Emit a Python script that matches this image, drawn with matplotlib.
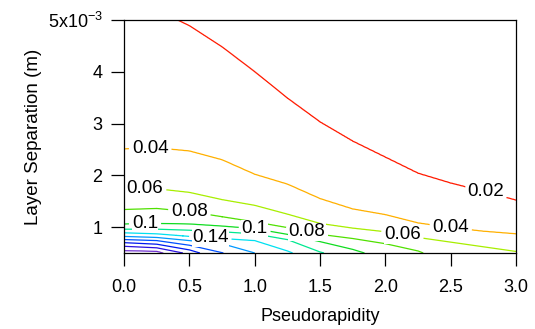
import numpy as np
import matplotlib
matplotlib.use("Agg")
import matplotlib.pyplot as plt

plt.rcParams['font.family'] = ['Liberation Sans', 'DejaVu Sans']
plt.rcParams['mathtext.fontset'] = 'custom'
plt.rcParams['mathtext.rm'] = 'Liberation Sans'
plt.rcParams['mathtext.default'] = 'regular'

nan = np.nan
# pseudorapidity columns at which contour heights were read
eta_cols = [0.0, 0.25, 0.5, 0.75, 1.0, 1.25, 1.5, 1.75, 2.0, 2.25, 2.5, 2.75, 3.0]
levels = [0.02, 0.04, 0.06, 0.08, 0.10, 0.12, 0.14, 0.16, 0.18, 0.20, 0.22, 0.24]

# height (x1e-3 m) of each contour level at each column (nan = outside chart)
h_002 = [nan, nan, 4.89, 4.48, 4.00, 3.49, 3.03, 2.66, 2.35, 2.04, 1.85, 1.69, 1.52]
h_004 = [2.51, 2.53, 2.47, 2.30, 2.02, 1.83, 1.55, 1.35, 1.24, 1.08, 0.99, 0.92, 0.87]
h_006 = [1.73, 1.74, 1.67, 1.53, 1.42, 1.25, 1.07, 0.98, 0.91, 0.80, 0.71, 0.62, 0.53]
h_008 = [1.34, 1.36, 1.30, 1.20, 1.10, 0.99, 0.86, 0.78, 0.68, 0.54, nan, nan, nan]
h_010 = [1.06, 1.07, 1.06, 1.02, 0.97, 0.86, 0.72, 0.57, nan, nan, nan, nan, nan]
h_012 = [0.96, 0.96, 0.94, 0.91, 0.87, 0.76, 0.52, nan, nan, nan, nan, nan, nan]
h_014 = [0.89, 0.87, 0.82, 0.78, 0.74, 0.54, nan, nan, nan, nan, nan, nan, nan]
h_016 = [0.82, 0.80, 0.74, 0.68, nan, nan, nan, nan, nan, nan, nan, nan, nan]
h_018 = [0.76, 0.74, 0.65, nan, nan, nan, nan, nan, nan, nan, nan, nan, nan]
h_020 = [0.70, 0.67, 0.56, nan, nan, nan, nan, nan, nan, nan, nan, nan, nan]
h_022 = [0.63, 0.60, nan, nan, nan, nan, nan, nan, nan, nan, nan, nan, nan]
h_024 = [0.545, 0.535, nan, nan, nan, nan, nan, nan, nan, nan, nan, nan, nan]

# pseudorapidity where each level meets the chart edge (top for 0.02, bottom otherwise)
edge_eta = [0.41, nan, nan, 2.29, 1.84, 1.53, 1.29, 1.00, 0.76, 0.58, 0.45, 0.30]
# values at the corners of the chart
z_bottom_left, z_bottom_right = 0.25, 0.0615
z_top_left, z_top_right = 0.0203, 0.006

heights = [h_002, h_004, h_006, h_008, h_010, h_012, h_014, h_016,
           h_018, h_020, h_022, h_024]

line_colors = ['#ff1a00', '#ffb000', '#a8ee00', '#50e000', '#10dc20', '#00e890',
               '#00e0f0', '#0098ff', '#0050ff', '#0018f0', '#2a10e0', '#7030d0']

# contour label positions (eta, height)
label_pos = [(0.20, 2.52), (0.16, 1.735), (0.50, 1.30), (0.16, 1.065),
             (0.66, 0.795), (1.00, 0.97), (1.40, 0.91), (2.13, 0.85),
             (2.50, 0.99), (2.77, 1.68)]

y_min, y_max = 0.5, 5.0
x_fine = np.linspace(0, 3.0, 301)
Y = np.linspace(y_min, y_max, 451)
cols = np.array(eta_cols)

# values along the bottom and top edges
b_eta = [0.0] + [e for e, l in zip(edge_eta, levels) if l > 0.03 and not np.isnan(e)] + [3.0]
b_z = [z_bottom_left] + [l for e, l in zip(edge_eta, levels) if l > 0.03 and not np.isnan(e)] + [z_bottom_right]
o = np.argsort(b_eta)
b_eta, b_z = np.array(b_eta)[o], np.array(b_z)[o]
t_eta = [0.0, edge_eta[0], 3.0]
t_z = [z_top_left, levels[0], z_top_right]

Z = np.zeros((len(Y), len(x_fine)))
for j, x in enumerate(x_fine):
    ys = [y_min, y_max]
    zs = [np.interp(x, b_eta, b_z), np.interp(x, t_eta, t_z)]
    for lev, h, e in zip(levels, heights, edge_eta):
        h = np.array(h)
        ok = ~np.isnan(h)
        px, py = list(cols[ok]), list(h[ok])
        if not np.isnan(e):
            edge_y = y_max if lev < 0.03 else y_min
            px.append(e)
            py.append(edge_y)
            o2 = np.argsort(px)
            px, py = list(np.array(px)[o2]), list(np.array(py)[o2])
        if px[0] <= x <= px[-1]:
            ys.append(np.interp(x, px, py))
            zs.append(lev)
    order = np.argsort(ys, kind='stable')
    Z[:, j] = np.interp(Y, np.array(ys)[order], np.array(zs)[order])

fig = plt.figure(figsize=(5.35, 3.29), dpi=100)
ax = fig.add_axes([0.232, 0.231, 0.7325, 0.708])

cs = ax.contour(x_fine, Y, Z, levels=levels, colors=line_colors, linewidths=0.9)
texts = ax.clabel(cs, fmt='%g', inline=True, inline_spacing=3, fontsize=13.5,
                  colors='black', manual=label_pos)
for t in texts:
    t.set_rotation(0)
    t.set_bbox(dict(facecolor='white', edgecolor='none', pad=0.3))

ax.set_xlim(0, 3.0)
ax.set_ylim(y_min, y_max)
ax.set_xticks([0, 0.5, 1.0, 1.5, 2.0, 2.5, 3.0])
ax.set_xticklabels(['0.0', '0.5', '1.0', '1.5', '2.0', '2.5', '3.0'])
ax.set_yticks([1, 2, 3, 4, 5])
ax.set_yticklabels(['1', '2', '3', '4', r'5x10$^{-3}$'])
ax.tick_params(direction='out', length=9.5, width=0.9, labelsize=13,
               top=False, right=False)
ax.tick_params(axis='x', pad=9)
ax.tick_params(axis='y', pad=6)
for s in ax.spines.values():
    s.set_linewidth(0.9)
ax.set_xlabel('Pseudorapidity', fontsize=13, labelpad=9)
ax.set_ylabel('Layer Separation (m)', fontsize=13.5, labelpad=4)

fig.savefig('out.png', dpi=100)
